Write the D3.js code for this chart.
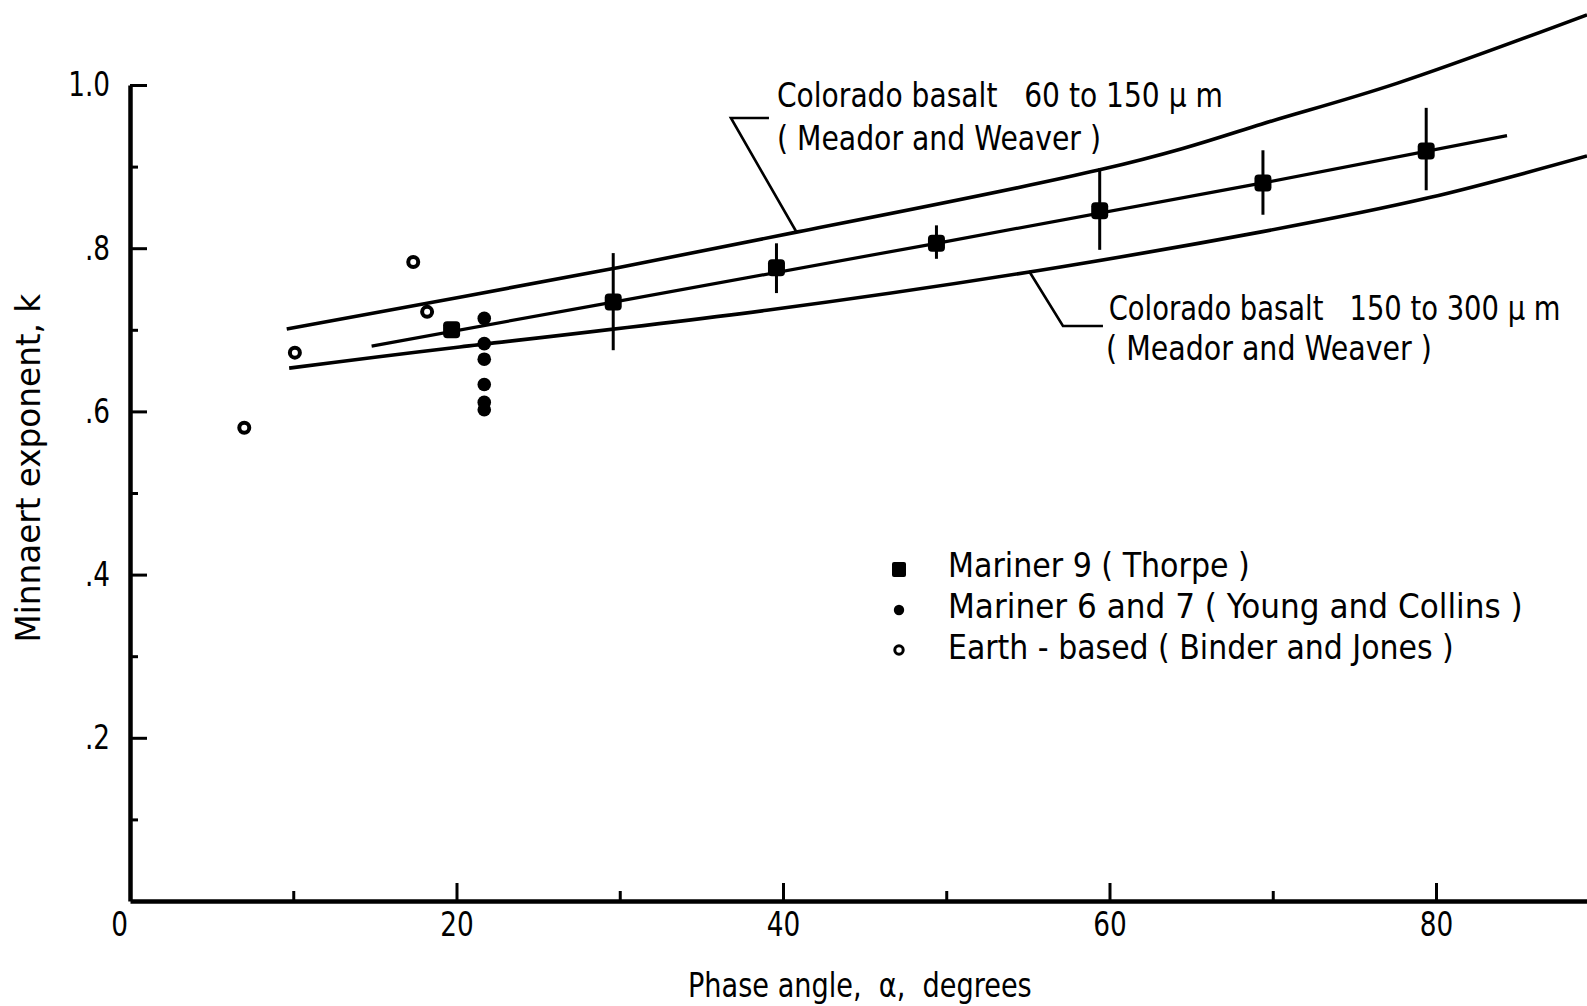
<!DOCTYPE html>
<html><head><meta charset="utf-8">
<script src="https://cdn.jsdelivr.net/npm/d3@7"></script>
<style>
html,body{margin:0;padding:0;background:#fff;}
svg{display:block;}
text{font-family:"Liberation Sans Narrow","DejaVu Sans Condensed","DejaVu Sans",sans-serif;font-stretch:condensed;fill:#000;white-space:pre;}
</style></head><body><svg id="c" width="1587" height="1006"></svg>
<script>
// ---- data ----
const xMajorTicks = [0, 20, 40, 60, 80];
const xMajorLabels = ["0", "20", "40", "60", "80"];
const xMinorTicks = [10, 30, 50, 70];
const yMajorTicks = [0.2, 0.4, 0.6, 0.8, 1.0];
const yMajorLabels = [".2", ".4", ".6", ".8", "1.0"];
const yMinorTicks = [0.1, 0.3, 0.5, 0.7, 0.9];

// Colorado basalt 60 to 150 um (upper curve)
const upperAngle = [9.6, 20.2, 29.6, 40.9, 59.4, 69.3, 77.6, 89.25];
const upperK     = [0.701, 0.740, 0.775, 0.820, 0.896, 0.952, 1.002, 1.086];
// Colorado basalt 150 to 300 um (lower curve)
const lowerAngle = [9.75, 20.2, 39.0, 57.0, 69.3, 79.6, 89.25];
const lowerK     = [0.653, 0.679, 0.724, 0.777, 0.820, 0.862, 0.913];
// fit through Mariner 9 points
const fitAngle = [14.8, 29.6, 49.4, 69.4, 84.35];
const fitK     = [0.680, 0.734, 0.806, 0.880, 0.938];

// Mariner 9 (Thorpe)
const m9Angle = [19.7, 29.6, 39.6, 49.4, 59.4, 69.4, 79.4];
const m9K     = [0.700, 0.734, 0.776, 0.806, 0.846, 0.880, 0.919];
const m9Low   = [null, 0.675, 0.745, 0.787, 0.798, 0.841, 0.871];
const m9High  = [null, 0.794, 0.806, 0.828, 0.898, 0.920, 0.972];

// Mariner 6 and 7 (Young and Collins)
const m67Angle = [21.7, 21.7, 21.7, 21.7, 21.7, 21.7];
const m67K     = [0.714, 0.683, 0.664, 0.633, 0.611, 0.602];

// Earth-based (Binder and Jones)
const earthAngle = [7.0, 10.1, 17.35, 18.2];
const earthK     = [0.580, 0.672, 0.783, 0.722];

const legendLabels = ["Mariner 9 ( Thorpe )", "Mariner 6 and 7 ( Young and Collins )", "Earth - based ( Binder and Jones )"];
const xTitle = "Phase angle,  \u03b1,  degrees";
const yTitle = "Minnaert exponent, k";
const upperLabel = ["Colorado basalt   60 to 150 \u03bc m", "( Meador and Weaver )"];
const lowerLabel = ["Colorado basalt   150 to 300 \u03bc m", "( Meador and Weaver )"];

// ---- drawing ----
const svg = d3.select("#c");
const x = d3.scaleLinear().domain([0, 89.25]).range([130, 1587]);
const y = d3.scaleLinear().domain([0, 1]).range([901, 85]);
const FS = 34;

// axes
const gx = svg.append("g").attr("transform", `translate(0,${y(0)})`);
gx.call(d3.axisBottom(x).tickValues(xMajorTicks).tickSize(-18).tickSizeOuter(0).tickPadding(11)
  .tickFormat((d, i) => xMajorLabels[i]));
const gx2 = svg.append("g").attr("transform", `translate(0,${y(0)})`);
gx2.call(d3.axisBottom(x).tickValues(xMinorTicks).tickSize(-10).tickSizeOuter(0).tickFormat(""));
gx2.select(".domain").remove();

const gy = svg.append("g").attr("transform", `translate(${x(0)},0)`);
gy.call(d3.axisLeft(y).tickValues(yMajorTicks).tickSize(-17).tickSizeOuter(0).tickPadding(20)
  .tickFormat((d, i) => yMajorLabels[i]));
const gy2 = svg.append("g").attr("transform", `translate(${x(0)},0)`);
gy2.call(d3.axisLeft(y).tickValues(yMinorTicks).tickSize(-8).tickSizeOuter(0).tickFormat(""));
gy2.select(".domain").remove();

svg.selectAll(".domain").attr("stroke", "#000").attr("stroke-width", 4.5);
svg.selectAll(".tick line").attr("stroke", "#000").attr("stroke-width", 3);
svg.selectAll(".tick text").attr("font-size", FS).attr("font-family", null).style("fill", "#000")
  .each(function () {
    const w = this.getComputedTextLength();
    d3.select(this).attr("textLength", w * 0.86).attr("lengthAdjust", "spacingAndGlyphs");
  });
gx.selectAll(".tick text").filter((d) => d === 0).attr("dx", -11);

// curves
const line = d3.line().x(d => x(d[0])).y(d => y(d[1])).curve(d3.curveNatural);
const zip = (a, b) => a.map((v, i) => [v, b[i]]);
svg.append("path").attr("d", line(zip(upperAngle, upperK))).attr("fill", "none").attr("stroke", "#000").attr("stroke-width", 3.6);
svg.append("path").attr("d", line(zip(lowerAngle, lowerK))).attr("fill", "none").attr("stroke", "#000").attr("stroke-width", 3.6);
svg.append("path").attr("d", d3.line().x(d => x(d[0])).y(d => y(d[1]))(zip(fitAngle, fitK))).attr("fill", "none").attr("stroke", "#000").attr("stroke-width", 3.2);

// error bars
svg.append("g").selectAll("line").data(m9Angle.map((a, i) => ({a, lo: m9Low[i], hi: m9High[i]})).filter(d => d.lo !== null))
  .join("line").attr("x1", d => x(d.a)).attr("x2", d => x(d.a)).attr("y1", d => y(d.lo)).attr("y2", d => y(d.hi))
  .attr("stroke", "#000").attr("stroke-width", 3);

// Mariner 9 squares
svg.append("g").selectAll("rect").data(zip(m9Angle, m9K)).join("rect")
  .attr("x", d => x(d[0]) - 8.5).attr("y", d => y(d[1]) - 8.5).attr("width", 17).attr("height", 17).attr("rx", 4).attr("fill", "#000");
// Mariner 6/7 filled dots
svg.append("g").selectAll("circle").data(zip(m67Angle, m67K)).join("circle")
  .attr("cx", d => x(d[0])).attr("cy", d => y(d[1])).attr("r", 6.8).attr("fill", "#000");
// Earth-based open circles
svg.append("g").selectAll("circle").data(zip(earthAngle, earthK)).join("circle")
  .attr("cx", d => x(d[0])).attr("cy", d => y(d[1])).attr("r", 5).attr("fill", "#fff").attr("stroke", "#000").attr("stroke-width", 4);

// annotations (leader lines in data coords)
const upperLeader = [[39.14, 0.9596], [36.81, 0.9596], [40.86, 0.8186]];
const lowerLeader = [[55.07, 0.772], [57.15, 0.7047], [59.6, 0.7047]];
const plain = d3.line().x(d => x(d[0])).y(d => y(d[1]));
[upperLeader, lowerLeader].forEach(p => svg.append("path").attr("d", plain(p)).attr("fill", "none").attr("stroke", "#000").attr("stroke-width", 2.6));

// text fitted to a target width by a horizontal scale transform
function fitText(parent, txt, px, py, width, anchor, rotate) {
  const t = parent.append("text").attr("font-size", FS).text(txt);
  const w = t.node().getComputedTextLength();
  const s = width / w;
  const dx = anchor === "middle" ? -width / 2 : 0;
  t.attr("transform", `translate(${px},${py})` + (rotate ? ` rotate(${rotate})` : "") + ` translate(${dx},0) scale(${s},1)`);
  return t;
}
fitText(svg, upperLabel[0], x(39.63), y(0.973), 446);
fitText(svg, upperLabel[1], x(39.63), y(0.920), 324);
fitText(svg, lowerLabel[0], x(59.95), y(0.712), 452);
fitText(svg, lowerLabel[1], x(59.79), y(0.663), 326);

// legend
const legX = 899, legTextX = 948, legRows = [577, 618, 659], markY = [569, 610, 650];
const lg = svg.append("g");
lg.append("rect").attr("x", legX - 7).attr("y", markY[0] - 7).attr("width", 14).attr("height", 15).attr("rx", 2).attr("fill", "#000");
lg.append("circle").attr("cx", legX).attr("cy", markY[1]).attr("r", 5.2).attr("fill", "#000");
lg.append("circle").attr("cx", legX).attr("cy", markY[2]).attr("r", 4.2).attr("fill", "#fff").attr("stroke", "#000").attr("stroke-width", 3);
const legW = [302, 575, 506];
legendLabels.forEach((t, i) => fitText(lg, t, legTextX, legRows[i], legW[i]));

// axis titles
fitText(svg, xTitle, 860, 997, 344, "middle");
fitText(svg, yTitle, 40, 468, 349, "middle", -90);
</script></body></html>
